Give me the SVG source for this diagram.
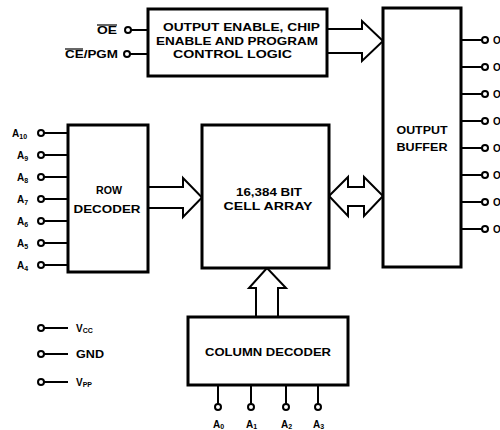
<svg xmlns="http://www.w3.org/2000/svg" width="500" height="430" viewBox="0 0 500 430">
<style>
.box{fill:#fff;stroke:#000;stroke-width:3}
.arr{fill:#fff;stroke:#000;stroke-width:2;stroke-linejoin:miter}
.ln{stroke:#000;stroke-width:2;fill:none}
.pin{fill:#fff;stroke:#000;stroke-width:2}
text{font-family:"Liberation Sans",Arial,sans-serif;font-weight:bold;fill:#000}
.t{font-size:10px;text-anchor:middle}
.lb{font-size:10px}
.sub{font-size:7px}
</style>
<rect width="500" height="430" fill="#fff"/>
<g id="connectors">
<path class="arr" d="M327,29 L362,29 L362,21 L383,41 L362,61 L362,53 L327,53"/>
<path class="arr" d="M148,187 L183,187 L183,178 L202,197.5 L183,217 L183,208 L148,208"/>
<path class="arr" d="M329,196 L348,177 L348,187 L364,187 L364,177 L383,196 L364,216 L364,206 L348,206 L348,216 Z"/>
<path class="arr" d="M256,317 L256,288 L249,288 L267,268 L286,288 L278,288 L278,317"/>
<g class="ln">
<path d="M131,30 H148 M130,54 H148"/>
<path d="M44,133 H68 M44,155 H68 M44,177 H68 M44,199 H68 M44,221 H68 M44,243 H68 M44,265 H68"/>
<path d="M461,40 H482 M461,67 H482 M461,94 H482 M461,121 H482 M461,148 H482 M461,175 H482 M461,202 H482 M461,229 H482"/>
<path d="M218,385 V404 M251,385 V404 M286,385 V404 M318,385 V404"/>
<path d="M44,328 H68 M44,354 H68 M44,382 H68"/>
</g>
</g>
<g id="pins">
<circle class="pin" cx="128" cy="30" r="3"/>
<circle class="pin" cx="127" cy="54" r="3"/>
<circle class="pin" cx="41" cy="133" r="3"/>
<circle class="pin" cx="41" cy="155" r="3"/>
<circle class="pin" cx="41" cy="177" r="3"/>
<circle class="pin" cx="41" cy="199" r="3"/>
<circle class="pin" cx="41" cy="221" r="3"/>
<circle class="pin" cx="41" cy="243" r="3"/>
<circle class="pin" cx="41" cy="265" r="3"/>
<circle class="pin" cx="485" cy="40" r="3"/>
<circle class="pin" cx="485" cy="67" r="3"/>
<circle class="pin" cx="485" cy="94" r="3"/>
<circle class="pin" cx="485" cy="121" r="3"/>
<circle class="pin" cx="485" cy="148" r="3"/>
<circle class="pin" cx="485" cy="175" r="3"/>
<circle class="pin" cx="485" cy="202" r="3"/>
<circle class="pin" cx="485" cy="229" r="3"/>
<circle class="pin" cx="218" cy="407" r="3"/>
<circle class="pin" cx="251" cy="407" r="3"/>
<circle class="pin" cx="286" cy="407" r="3"/>
<circle class="pin" cx="318" cy="407" r="3"/>
<circle class="pin" cx="41" cy="328" r="3"/>
<circle class="pin" cx="41" cy="354" r="3"/>
<circle class="pin" cx="41" cy="382" r="3"/>
</g>
<g id="control">
<rect class="box" x="148" y="9" width="179" height="67"/>
<text class="t" x="241.5" y="31" textLength="157" lengthAdjust="spacingAndGlyphs">OUTPUT ENABLE, CHIP</text>
<text class="t" x="237" y="45" textLength="162" lengthAdjust="spacingAndGlyphs">ENABLE AND PROGRAM</text>
<text class="t" x="232.5" y="58" textLength="119" lengthAdjust="spacingAndGlyphs">CONTROL LOGIC</text>
</g>
<g id="output-buffer">
<rect class="box" x="383" y="8" width="78" height="259"/>
<text class="t" x="422" y="134" textLength="51" lengthAdjust="spacingAndGlyphs">OUTPUT</text>
<text class="t" x="422" y="151" textLength="51" lengthAdjust="spacingAndGlyphs">BUFFER</text>
</g>
<g id="row-decoder">
<rect class="box" x="68" y="125" width="80" height="147"/>
<text class="t" x="109" y="194" textLength="26" lengthAdjust="spacingAndGlyphs">ROW</text>
<text class="t" x="107" y="213" textLength="67" lengthAdjust="spacingAndGlyphs">DECODER</text>
</g>
<g id="cell-array">
<rect class="box" x="202" y="125" width="127" height="143"/>
<text class="t" x="269" y="196" textLength="66" lengthAdjust="spacingAndGlyphs">16,384 BIT</text>
<text class="t" x="268" y="210" textLength="89" lengthAdjust="spacingAndGlyphs">CELL ARRAY</text>
</g>
<g id="column-decoder">
<rect class="box" x="188" y="317" width="160" height="68"/>
<text class="t" x="268" y="356" textLength="126" lengthAdjust="spacingAndGlyphs">COLUMN DECODER</text>
</g>
<g id="labels">
<text class="lb" x="97" y="34" textLength="20" lengthAdjust="spacingAndGlyphs">OE</text>
<path d="M97,25 H117" stroke="#000" stroke-width="1.2"/>
<text class="lb" x="65" y="58" textLength="53" lengthAdjust="spacingAndGlyphs">CE/PGM</text>
<path d="M65,49 H83" stroke="#000" stroke-width="1.2"/>
<text class="lb" x="12" y="137">A<tspan class="sub" dy="2">10</tspan></text>
<text class="lb" x="17" y="159">A<tspan class="sub" dy="2">9</tspan></text>
<text class="lb" x="17" y="181">A<tspan class="sub" dy="2">8</tspan></text>
<text class="lb" x="17" y="203">A<tspan class="sub" dy="2">7</tspan></text>
<text class="lb" x="17" y="225">A<tspan class="sub" dy="2">6</tspan></text>
<text class="lb" x="17" y="247">A<tspan class="sub" dy="2">5</tspan></text>
<text class="lb" x="17" y="269">A<tspan class="sub" dy="2">4</tspan></text>
<text class="lb" x="76" y="332">V<tspan class="sub" dy="1">CC</tspan></text>
<text class="lb" x="76" y="358" textLength="28" lengthAdjust="spacingAndGlyphs">GND</text>
<text class="lb" x="76" y="386">V<tspan class="sub" dy="1">PP</tspan></text>
<text class="lb" x="213" y="428">A<tspan class="sub" dy="1">0</tspan></text>
<text class="lb" x="246" y="428">A<tspan class="sub" dy="1">1</tspan></text>
<text class="lb" x="281" y="428">A<tspan class="sub" dy="1">2</tspan></text>
<text class="lb" x="313" y="428">A<tspan class="sub" dy="1">3</tspan></text>
<text class="lb" x="493" y="44">O</text>
<text class="lb" x="493" y="71">O</text>
<text class="lb" x="493" y="98">O</text>
<text class="lb" x="493" y="125">O</text>
<text class="lb" x="493" y="152">O</text>
<text class="lb" x="493" y="179">O</text>
<text class="lb" x="493" y="206">O</text>
<text class="lb" x="493" y="233">O</text>
</g>
</svg>
